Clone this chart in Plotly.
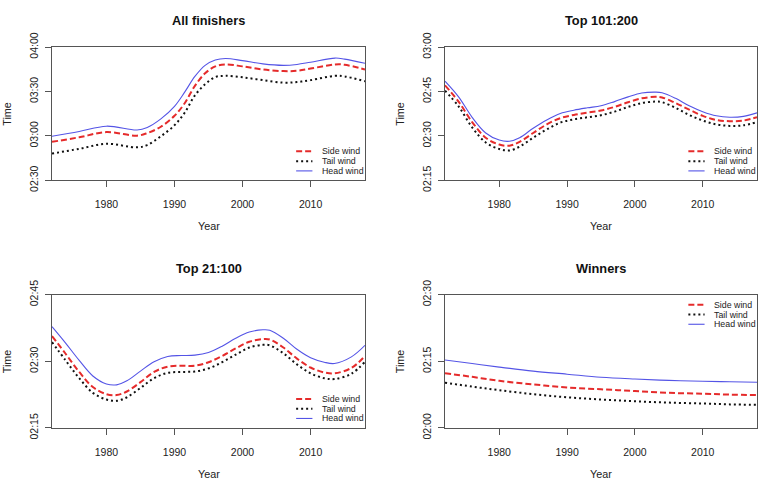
import plotly.graph_objects as go

# ---------------- data (minutes) ----------------
# All finishers
yrs_all = [1972, 1976, 1980, 1984.5, 1986, 1988, 1990, 1991.5, 1993, 1994.5, 1996, 1997.5,
           2000, 2003, 2006, 2008, 2010, 2013.6, 2015, 2018]
head_all = [179.8, 183.0, 186.6, 184.0, 185.7, 191.5, 200.0, 209.6, 220.2, 227.7, 231.3, 232.3,
            230.9, 228.7, 227.7, 228.3, 229.8, 232.6, 231.9, 229.1]
side_all = [176.0, 179.1, 182.6, 180.2, 181.9, 186.2, 193.6, 202.1, 213.8, 222.3, 227.0, 228.3,
            227.0, 224.9, 223.8, 224.0, 225.5, 228.3, 228.1, 224.9]
tail_all = [168.1, 171.3, 174.7, 172.3, 173.8, 179.8, 187.2, 195.7, 207.4, 214.9, 219.8, 220.6,
            219.6, 217.7, 216.0, 216.4, 217.7, 220.6, 220.2, 217.0]

# Top 101:200
yrs_101 = [1972, 1974, 1976, 1978, 1980, 1981.5, 1983, 1985, 1987, 1989, 1991, 1993, 1995,
           1997, 1999, 2001, 2003, 2004, 2006, 2008, 2010, 2012, 2014, 2016, 2018]
head_101 = [168.5, 163.2, 156.3, 151.0, 148.6, 148.2, 149.4, 152.6, 155.4, 157.6, 158.7, 159.5, 160.2,
            161.6, 163.2, 164.5, 164.8, 164.6, 162.7, 160.2, 158.2, 156.8, 156.3, 156.6, 157.8]
side_101 = [167.1, 161.6, 154.7, 149.4, 147.1, 146.7, 148.0, 151.0, 153.9, 156.0, 157.1, 157.9, 158.6,
            159.8, 161.4, 162.7, 163.2, 163.0, 161.1, 158.9, 156.8, 155.4, 155.0, 155.2, 156.3]
tail_101 = [165.3, 160.0, 152.9, 147.8, 145.6, 145.1, 146.4, 149.4, 152.2, 154.5, 155.6, 156.3, 157.0,
            158.2, 159.8, 161.1, 161.6, 161.4, 159.5, 157.1, 155.2, 153.9, 153.4, 153.6, 154.7]

# Top 21:100
yrs_21 = [1972, 1974, 1976, 1978, 1980, 1981.5, 1983, 1985, 1987, 1989, 1991, 1993, 1995,
          1997, 1999, 2001, 2003, 2004, 2006, 2008, 2010, 2012, 2013.5, 2016, 2018]
head_21 = [157.8, 154.1, 150.2, 146.7, 144.9, 144.7, 145.6, 147.8, 149.9, 151.1, 151.3, 151.4, 152.0,
           153.4, 155.2, 156.6, 157.1, 157.0, 155.2, 152.7, 150.8, 149.8, 149.5, 151.0, 153.6]
side_21 = [155.7, 151.7, 147.6, 144.2, 142.6, 142.4, 143.2, 145.3, 147.6, 148.8, 149.0, 149.0, 149.8,
           151.2, 152.9, 154.4, 155.0, 154.9, 153.1, 150.6, 148.6, 147.5, 147.3, 148.5, 151.2]
tail_21 = [154.3, 150.2, 146.2, 142.9, 141.4, 141.1, 141.9, 144.0, 146.2, 147.4, 147.6, 147.7, 148.4,
           149.8, 151.5, 153.1, 153.7, 153.6, 151.8, 149.3, 147.3, 146.2, 146.0, 147.2, 149.9]

# Winners
yrs_win = [1972, 1976, 1980, 1985, 1990, 1995, 2000, 2005, 2010, 2014, 2018]
head_win = [135.3, 134.5, 133.7, 132.8, 132.1, 131.4, 131.0, 130.7, 130.5, 130.4, 130.3]
side_win = [132.3, 131.5, 130.6, 129.8, 129.1, 128.7, 128.3, 127.9, 127.7, 127.5, 127.4]
tail_win = [130.2, 129.3, 128.5, 127.6, 126.9, 126.4, 126.0, 125.7, 125.5, 125.3, 125.2]

titles = ["All finishers", "Top 101:200", "Top 21:100", "Winners"]
series_names = ["Side wind", "Tail wind", "Head wind"]
x_ticks = [1980, 1990, 2000, 2010]
y_ranges = [[150, 240], [135, 180], [135, 165], [120, 150]]
y_tickvals = [[150, 180, 210, 240], [135, 150, 165, 180], [135, 150, 165], [120, 135, 150]]
y_ticktext = [["02:30", "03:00", "03:30", "04:00"], ["02:15", "02:30", "02:45", "03:00"],
              ["02:15", "02:30", "02:45"], ["02:00", "02:15", "02:30"]]
legend_pos = ["bottom", "bottom", "bottom", "top"]

panels = [
    (yrs_all, side_all, tail_all, head_all),
    (yrs_101, side_101, tail_101, head_101),
    (yrs_21, side_21, tail_21, head_21),
    (yrs_win, side_win, tail_win, head_win),
]

# ---------------- styling ----------------
W, H = 760, 490
FONT = "Liberation Sans, Arial, sans-serif"
RED = "#e52b2b"
BLACK = "#111111"
BLUE = "#5454e6"
BOX = "#555555"
styles = [
    dict(color=RED, width=2, dash="6px,3px"),
    dict(color=BLACK, width=2, dash="2px,3px"),
    dict(color=BLUE, width=1.1, dash="solid"),
]

# panel boxes in pixels (left, right, top, bottom)
boxes = [(52, 365, 34, 175), (445, 757, 34, 175), (52, 365, 296, 437), (445, 757, 296, 437)]

fig = go.Figure()
annotations = []
shapes = []

for i, (yrs, side, tail, head) in enumerate(panels):
    k = "" if i == 0 else str(i + 1)
    xa, ya = "x" + k, "y" + k
    for name, vals, st in zip(series_names, [side, tail, head], styles):
        fig.add_trace(go.Scatter(
            x=yrs, y=vals, name=name, mode="lines", xaxis=xa, yaxis=ya,
            line=dict(color=st["color"], width=st["width"], dash=st["dash"],
                      shape="spline", smoothing=1.0),
            showlegend=False, hoverinfo="x+y+name"))
    l, r, t, b = boxes[i]
    fig.layout["xaxis" + k] = dict(
        domain=[l / W, r / W], anchor=ya, range=[1972, 2018],
        tickvals=x_ticks, ticks="outside", ticklen=6, tickcolor=BOX, tickwidth=1,
        showline=True, linecolor=BOX, linewidth=1, mirror=True,
        showgrid=False, zeroline=False, ticklabelstandoff=8,
        tickfont=dict(family=FONT, size=10.5, color="#222"))
    fig.layout["yaxis" + k] = dict(
        domain=[1 - b / H, 1 - t / H], anchor=xa, range=y_ranges[i],
        tickvals=y_tickvals[i], ticktext=y_ticktext[i], tickangle=-90,
        ticks="outside", ticklen=6, tickcolor=BOX, tickwidth=1,
        showline=True, linecolor=BOX, linewidth=1, mirror=True,
        showgrid=False, zeroline=False, ticklabelstandoff=3,
        tickfont=dict(family=FONT, size=10.5, color="#222"))
    xd, yd = xa + " domain", ya + " domain"
    annotations.append(dict(text="<b>" + titles[i] + "</b>", xref=xd, yref=yd, x=0.5, y=1,
                            yshift=26.5, showarrow=False, yanchor="middle",
                            font=dict(family=FONT, size=12.8, color="#111")))
    annotations.append(dict(text="Year", xref=xd, yref=yd, x=0.5, y=0, yshift=-46,
                            showarrow=False, yanchor="middle",
                            font=dict(family=FONT, size=10.8, color="#222")))
    annotations.append(dict(text="Time", xref=xd, yref=yd, x=0, y=0.5, xshift=-45,
                            textangle=-90, showarrow=False, xanchor="center",
                            font=dict(family=FONT, size=10.8, color="#222")))
    rows = [0.218, 0.144, 0.071] if legend_pos[i] == "bottom" else [0.924, 0.851, 0.778]
    for name, st, ry in zip(series_names, styles, rows):
        shapes.append(dict(type="line", xref=xd, yref=yd, x0=0.780, x1=0.832, y0=ry, y1=ry,
                           line=dict(color=st["color"], width=st["width"], dash=st["dash"])))
        annotations.append(dict(text=name, xref=xd, yref=yd, x=0.855, y=ry, xanchor="left",
                                yanchor="middle", showarrow=False,
                                font=dict(family=FONT, size=8.8, color="#222")))

fig.update_layout(
    width=W, height=H, margin=dict(l=0, r=0, t=0, b=0),
    paper_bgcolor="white", plot_bgcolor="white",
    annotations=annotations, shapes=shapes, showlegend=False,
    font=dict(family=FONT))

post = ("document.documentElement.style.margin='0';document.body.style.margin='0';"
        "document.body.style.overflow='hidden';document.documentElement.style.overflow='hidden';"
        "var gd=document.getElementById('{plot_id}');gd.style.position='absolute';"
        "gd.style.left='0px';gd.style.top='0px';")
fig.write_html("out.html", post_script=post, config={"displayModeBar": False})
